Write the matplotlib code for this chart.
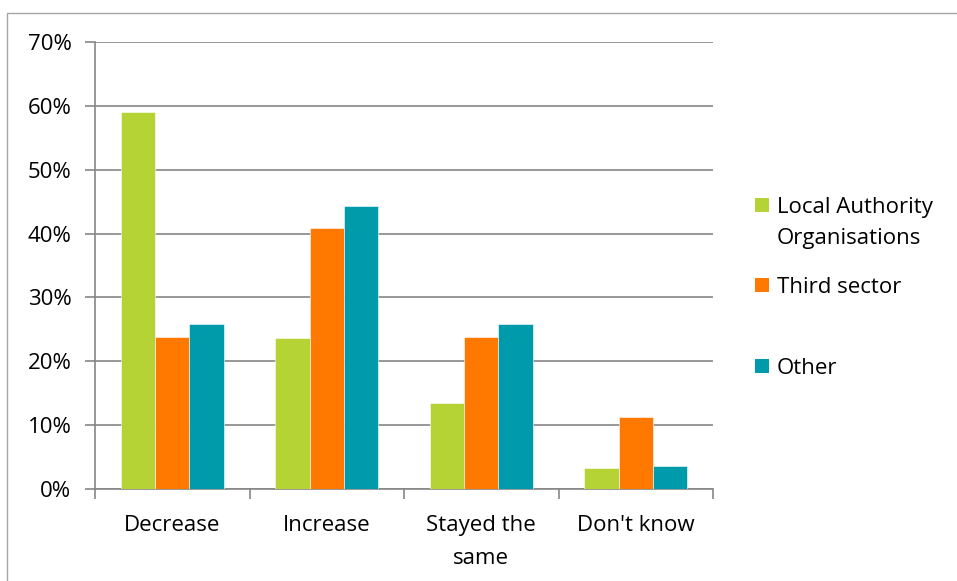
import numpy as np
import matplotlib.pyplot as plt
from matplotlib.patches import Rectangle
from matplotlib.ticker import PercentFormatter

plt.rcParams['font.family'] = ['Open Sans', 'DejaVu Sans']

categories = ['Decrease', 'Increase', 'Stayed the\nsame', "Don't know"]
series_names = ['Local Authority\nOrganisations', 'Third sector', 'Other']
local_authority = [59.1, 23.6, 13.4, 3.3]
third_sector = [23.8, 40.8, 23.8, 11.3]
other = [25.8, 44.3, 25.8, 3.6]
colors = ['#B5D334', '#FF7800', '#009BAA']

W, H = 957, 581
FS = 16
fig = plt.figure(figsize=(W / 100, H / 100), dpi=100)
ax = fig.add_axes([95 / W, (H - 489) / H, (713 - 95) / W, (489 - 42) / H])

# outer frame like the exported Excel chart (only top and left edges visible)
fig.add_artist(Rectangle((7 / W, -0.1), 1.2, (H - 13) / H + 0.1, transform=fig.transFigure,
                         fill=False, edgecolor='#A6A6A6', linewidth=1.0))

x = np.arange(len(categories))
bw = 1 / 4.5
for i, (vals, c) in enumerate(zip([local_authority, third_sector, other], colors)):
    ax.bar(x + (i - 1) * bw, vals, width=bw, color=c, edgecolor='white',
           linewidth=0.4, zorder=3)

ax.set_xlim(-0.5, len(categories) - 0.5)
ax.set_ylim(0, 70)
ax.set_yticks(np.arange(0, 71, 10))
ax.yaxis.set_major_formatter(PercentFormatter(decimals=0))
ax.grid(axis='y', color='#868686', linewidth=1.2, zorder=0)
ax.set_axisbelow(True)

ax.set_xticks(x)
ax.set_xticklabels(categories, fontsize=FS, linespacing=1.7)
ax.set_xticks(np.arange(-0.5, len(categories)), minor=True)
ax.tick_params(axis='x', which='major', length=0, pad=19)
ax.tick_params(axis='x', which='minor', length=7, width=1.2, color='#868686')
ax.tick_params(axis='y', length=7, width=1.2, color='#868686', pad=10, labelsize=FS)

for s in ['top', 'right']:
    ax.spines[s].set_visible(False)
for s in ['left', 'bottom']:
    ax.spines[s].set_color('#868686')
    ax.spines[s].set_linewidth(1.2)

# legend drawn to match Excel's uneven spacing
leg_y = [205, 285, 366]
for name, c, y in zip(series_names, colors, leg_y):
    fig.add_artist(Rectangle((755 / W, (H - y - 7) / H), 14 / W, 14 / H,
                             transform=fig.transFigure, facecolor=c, edgecolor='none'))
    fig.text(777 / W, (H - y + 8) / H, name, fontsize=FS, va='top', ha='left',
             linespacing=1.6)

fig.savefig('out.png', dpi=100, facecolor='white')
